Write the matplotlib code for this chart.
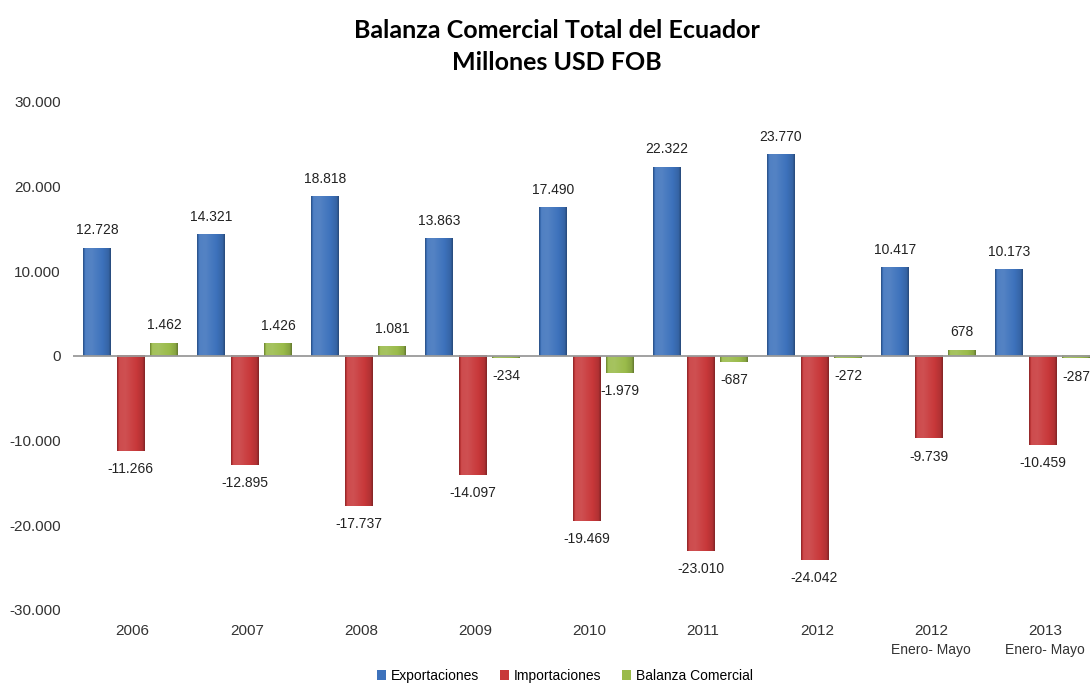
import numpy as np
import matplotlib
matplotlib.use("Agg")
import matplotlib.pyplot as plt
from matplotlib.patches import Patch
from matplotlib.colors import to_rgb

years = ["2006", "2007", "2008", "2009", "2010", "2011", "2012", "2012", "2013"]
periods = ["", "", "", "", "", "", "", "Enero- Mayo", "Enero- Mayo"]

exportaciones = [12728, 14321, 18818, 13863, 17490, 22322, 23770, 10417, 10173]
importaciones = [-11266, -12895, -17737, -14097, -19469, -23010, -24042, -9739, -10459]
balanza = [1462, 1426, 1081, -234, -1979, -687, -272, 678, -287]

yticks = [-30000, -20000, -10000, 0, 10000, 20000, 30000]


def fmt(v):
    return f"{v:,.0f}".replace(",", ".")


def shade(color, f):
    c = np.array(to_rgb(color))
    if f >= 0:
        return c + (1 - c) * f
    return c * (1 + f)


plt.rcParams['font.family'] = ['Liberation Sans', 'DejaVu Sans']

fig = plt.figure(figsize=(10.9, 6.84), dpi=100)
ax = fig.add_axes([0.0674, 0.1082, 0.9413, 0.7427])

x = np.arange(len(years))
width = 0.24
step = 0.295

series = [
    (exportaciones, "#3d72bc", "Exportaciones"),
    (importaciones, "#c8383a", "Importaciones"),
    (balanza, "#9abb4a", "Balanza Comercial"),
]

# horizontal shading profile to mimic the bevelled bars
t = np.linspace(0, 1, 64)
prof = np.interp(t, [0, 0.08, 0.3, 0.7, 0.92, 1], [-0.3, 0.1, 0.12, 0.0, -0.12, -0.35])

for i, (vals, color, name) in enumerate(series):
    bars = ax.bar(x + (i - 1) * step, vals, width, color=color, edgecolor='none', zorder=2)
    img = np.array([[np.clip(shade(color, p), 0, 1) for p in prof]])
    for rect in bars:
        x0 = rect.get_x()
        y0 = rect.get_y()
        h = rect.get_height()
        ax.imshow(img, extent=(x0, x0 + rect.get_width(), min(y0, y0 + h), max(y0, y0 + h)),
                  aspect='auto', interpolation='bilinear', zorder=3)
    ax.bar_label(bars, labels=[fmt(v) for v in vals], padding=8, fontsize=10, color='#222222')

ax.axhline(0, color='#9a9a9a', lw=1.3, zorder=4)

ax.set_xlim(-0.5, len(years) - 0.5)
ax.set_ylim(-30000, 30000)
ax.set_yticks(yticks)
ax.set_yticklabels([fmt(v) for v in yticks])
ax.set_xticks([])
ax.tick_params(axis='y', length=0, pad=9, labelsize=11, labelcolor='#333333')
for s in ax.spines.values():
    s.set_visible(False)

trans = ax.get_xaxis_transform()
for xi, yr, per in zip(x, years, periods):
    ax.text(xi + 0.02, -0.041, yr, transform=trans, ha='center', va='center', fontsize=11, color='#333333')
    if per:
        ax.text(xi + 0.02, -0.079, per, transform=trans, ha='center', va='center', fontsize=10, color='#333333')

fig.text(0.511, 1 - 30 / 684, "Balanza Comercial Total del Ecuador", ha='center', va='center',
         fontsize=18, fontweight='bold', family='Lato')
fig.text(0.511, 1 - 62 / 684, "Millones USD FOB", ha='center', va='center',
         fontsize=18, fontweight='bold', family='Lato')

handles = [Patch(facecolor=c, edgecolor='none') for _, c, _ in series]
fig.legend(handles, [n for _, _, n in series], loc='center', bbox_to_anchor=(0.518, 1 - 676 / 684),
           ncol=3, frameon=False, handlelength=0.7, handleheight=0.7, handletextpad=0.3,
           columnspacing=1.5, fontsize=10)

fig.savefig("out.png", dpi=100)
